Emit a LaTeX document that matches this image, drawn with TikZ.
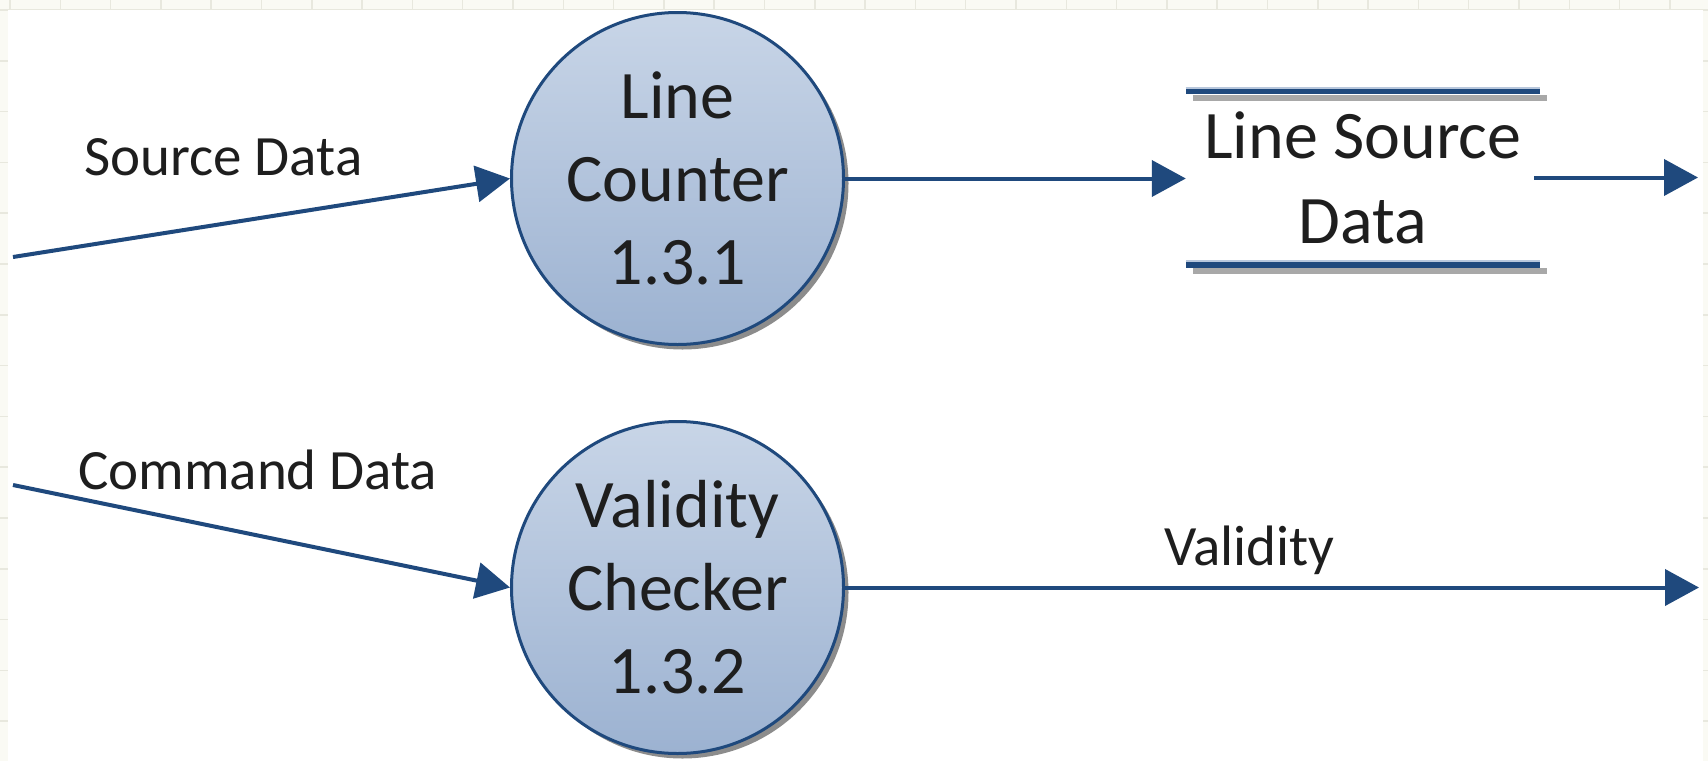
\documentclass[tikz,border=0pt]{standalone}
\usepackage{fontspec}
\setmainfont{Carlito}
\usetikzlibrary{arrows.meta,shadows}
\definecolor{dfdblue}{HTML}{1F497D}
\definecolor{fillTop}{HTML}{C8D5E7}
\definecolor{fillBot}{HTML}{9CB2D1}
\definecolor{textc}{HTML}{1E1E1E}
\definecolor{bgcream}{HTML}{FAFAF4}
\definecolor{gridc}{HTML}{E8E8DE}
\definecolor{storeLight}{HTML}{B8C7DC}
\definecolor{shadowc}{HTML}{A8A8A8}
\tikzset{
  process/.style={circle, minimum size=332pt, inner sep=0pt, draw=dfdblue, line width=3pt,
    top color=fillTop, bottom color=fillBot,
    drop shadow={shadow xshift=5pt, shadow yshift=-5pt, fill=black, opacity=0.45},
    font=\fontsize{68}{83}\selectfont, align=center, text=textc},
  storebox/.style={rectangle, minimum width=354pt, minimum height=173pt, inner sep=0pt,
    font=\fontsize{68}{85}\selectfont, align=center, text=textc},
  storeline/.style={draw=dfdblue, line width=7pt},
  storehi/.style={draw=storeLight, line width=2.5pt},
  storeshadow/.style={draw=shadowc, line width=6pt},
  flow/.style={draw=dfdblue, line width=4pt, -{Triangle[length=34pt,width=36pt]}},
  flowlabel/.style={font=\fontsize{57}{68}\selectfont, text=textc, inner sep=0pt, anchor=base west}
}
\begin{document}
\begin{tikzpicture}[x=1pt,y=-1pt]
\useasboundingbox (0,0) rectangle (1708,761);
% page background with faint grid
\fill[bgcream] (0,0) rectangle (1708,761);
\foreach \gx in {10,60.3,...,1708} \draw[gridc, line width=1.5pt] (\gx,0) -- (\gx,761);
\foreach \gy in {10,60.8,...,761} \draw[gridc, line width=1.5pt] (0,\gy) -- (1708,\gy);
\fill[white] (8,10) rectangle (1703,761);

% processes
\node[process] (c1) at (677.5,178.5) {Line\\Counter\\1.3.1};
\node[process] (c2) at (677.5,587.5) {Validity\\Checker\\1.3.2};

% data store
\node[storebox] (store) at (1363,177.5) {Line Source\\Data};
\draw[storeshadow] ([xshift=7pt,yshift=-7pt]store.north west) -- ([xshift=7pt,yshift=-7pt]store.north east);
\draw[storeline] (store.north west) -- (store.north east);
\draw[storehi] ([yshift=3pt]store.north west) -- ([yshift=3pt]store.north east);
\draw[storeshadow] ([xshift=7pt,yshift=-7pt]store.south west) -- ([xshift=7pt,yshift=-7pt]store.south east);
\draw[storeline] (store.south west) -- (store.south east);
\draw[storehi] ([yshift=3pt]store.south west) -- ([yshift=3pt]store.south east);

% free ends
\coordinate (src1) at (13,257);
\coordinate (src2) at (13,485);
\coordinate (out1) at (1698,177.5);
\coordinate (out2) at (1699,587.5);

% flows
\draw[flow] (src1) -- (c1.west);
\draw[flow] (src2) -- (c2.west);
\draw[flow] (c1.east) -- (c1.east -| store.west);
\draw[flow] ([xshift=-6pt]store.east) -- (out1);
\draw[flow] (c2.east) -- (out2);

% labels
\node[flowlabel] (lsrc) at (84,175) {Source Data};
\node[flowlabel] (lcmd) at (78,489) {Command Data};
\node[flowlabel] (lval) at (1164,565) {Validity};
\end{tikzpicture}
\end{document}
